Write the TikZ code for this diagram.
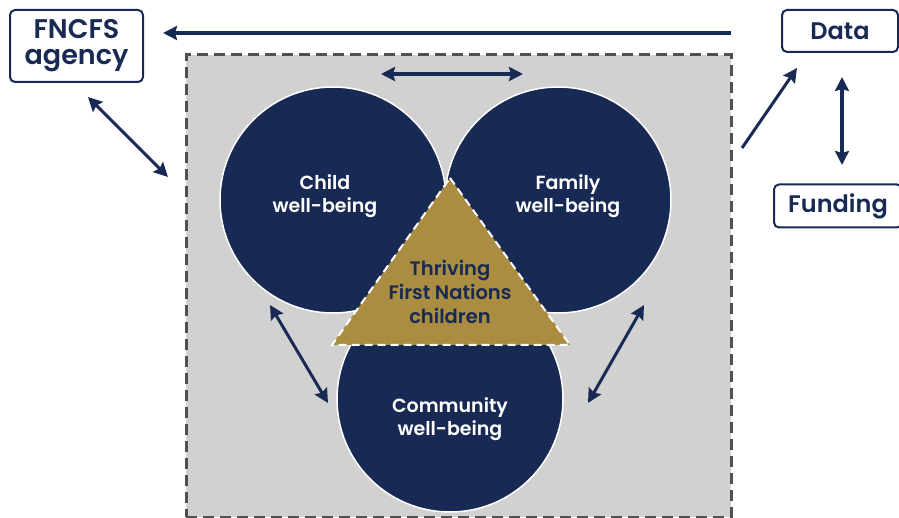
\documentclass[tikz,border=0pt]{standalone}
\usepackage{fontspec}
\setmainfont{Poppins}[BoldFont={Poppins SemiBold}]
\usetikzlibrary{arrows.meta}

\definecolor{navy}{HTML}{182A54}
\definecolor{gold}{HTML}{AA8D40}
\definecolor{areagrey}{HTML}{D1D1D1}
\definecolor{dashgrey}{HTML}{505050}

\begin{document}
\begin{tikzpicture}[x=1pt, y=-1pt]
\tikzset{ >={Stealth[length=14pt, width=14pt, inset=2pt]},
  link/.style={draw=navy, line width=3.5pt},
  infobox/.style={draw=navy, line width=2pt, rounded corners=5pt, fill=white, text=navy,
    font=\fontsize{24}{25}\selectfont\bfseries, align=center, inner sep=0pt},
  wellbeing/.style={circle, fill=navy, draw=white, line width=1.5pt, minimum size=226pt, inner sep=0pt},
  wbtext/.style={text=white, font=\fontsize{19}{23}\selectfont\bfseries, align=center},
}

\useasboundingbox (0,0) rectangle (899,518);

%%% Area

% grey dashed frame
\node [draw=dashgrey, fill=areagrey, line width=3pt, dash pattern=on 11pt off 6pt,
  minimum width=545pt, minimum height=462pt, inner sep=0pt] (area) at (458.5,286) { };

%%% Circles

\node [wellbeing] (child)     at (333,200) { };
\node [wellbeing] (family)    at (558,200) { };
\node [wellbeing] (community) at (450,399) { };

% triangle on top
\coordinate (apex)  at (450,178);
\coordinate (baseR) at (570,345);
\coordinate (baseL) at (332,345);
\draw [fill=gold, draw=white, line width=2pt, dash pattern=on 8pt off 5pt] (apex) -- (baseR) -- (baseL) -- cycle;

%%% Texts

\node [wbtext] (childtxt)     at (325,196) {Child\\well-being};
\node [wbtext] (familytxt)    at (568,196) {Family\\well-being};
\node [wbtext] (communitytxt) at (450,419) {Community\\well-being};
\node [text=navy, font=\fontsize{19.5}{24}\selectfont\bfseries, align=center] (thriving) at (450,292) {Thriving\\First Nations\\children};

%%% Boxes

\node [infobox, minimum width=133pt, minimum height=72pt, font=\fontsize{27}{26}\selectfont\bfseries] (agency) at (76.5,46) {FNCFS\\agency};
\node [infobox, minimum width=116pt, minimum height=42pt] (data)    at (840,31)  {Data};
\node [infobox, minimum width=128pt, minimum height=43pt] (funding) at (838,206) {Funding};

%%% Arrows

% area -> agency
\coordinate (topR) at (731,33);
\coordinate (topL) at (163,33);
\draw [->, link, line width=4pt] (topR) -- (topL);

% agency <-> area
\coordinate (agA) at (88,97);
\coordinate (agB) at (168,177);
\draw [<->, link, line width=3pt] (agA) -- (agB);

% area -> data
\coordinate (dataA) at (742,148);
\coordinate (dataB) at (797,68);
\draw [->, link, line width=3pt] (dataA) -- (dataB);

% data <-> funding
\coordinate (dfA) at (842,77);
\coordinate (dfB) at (842,165);
\draw [<->, link, line width=4pt] (dfA) -- (dfB);

% child <-> family
\coordinate (cfA) at (381,74);
\coordinate (cfB) at (523,74);
\draw [<->, link, line width=4pt] (cfA) -- (cfB);

% child <-> community
\coordinate (ccA) at (270,305);
\coordinate (ccB) at (328,403);
\draw [<->, link, line width=3pt] (ccA) -- (ccB);

% family <-> community
\coordinate (fcA) at (644,305);
\coordinate (fcB) at (588,403);
\draw [<->, link, line width=3pt] (fcA) -- (fcB);

\end{tikzpicture}
\end{document}
